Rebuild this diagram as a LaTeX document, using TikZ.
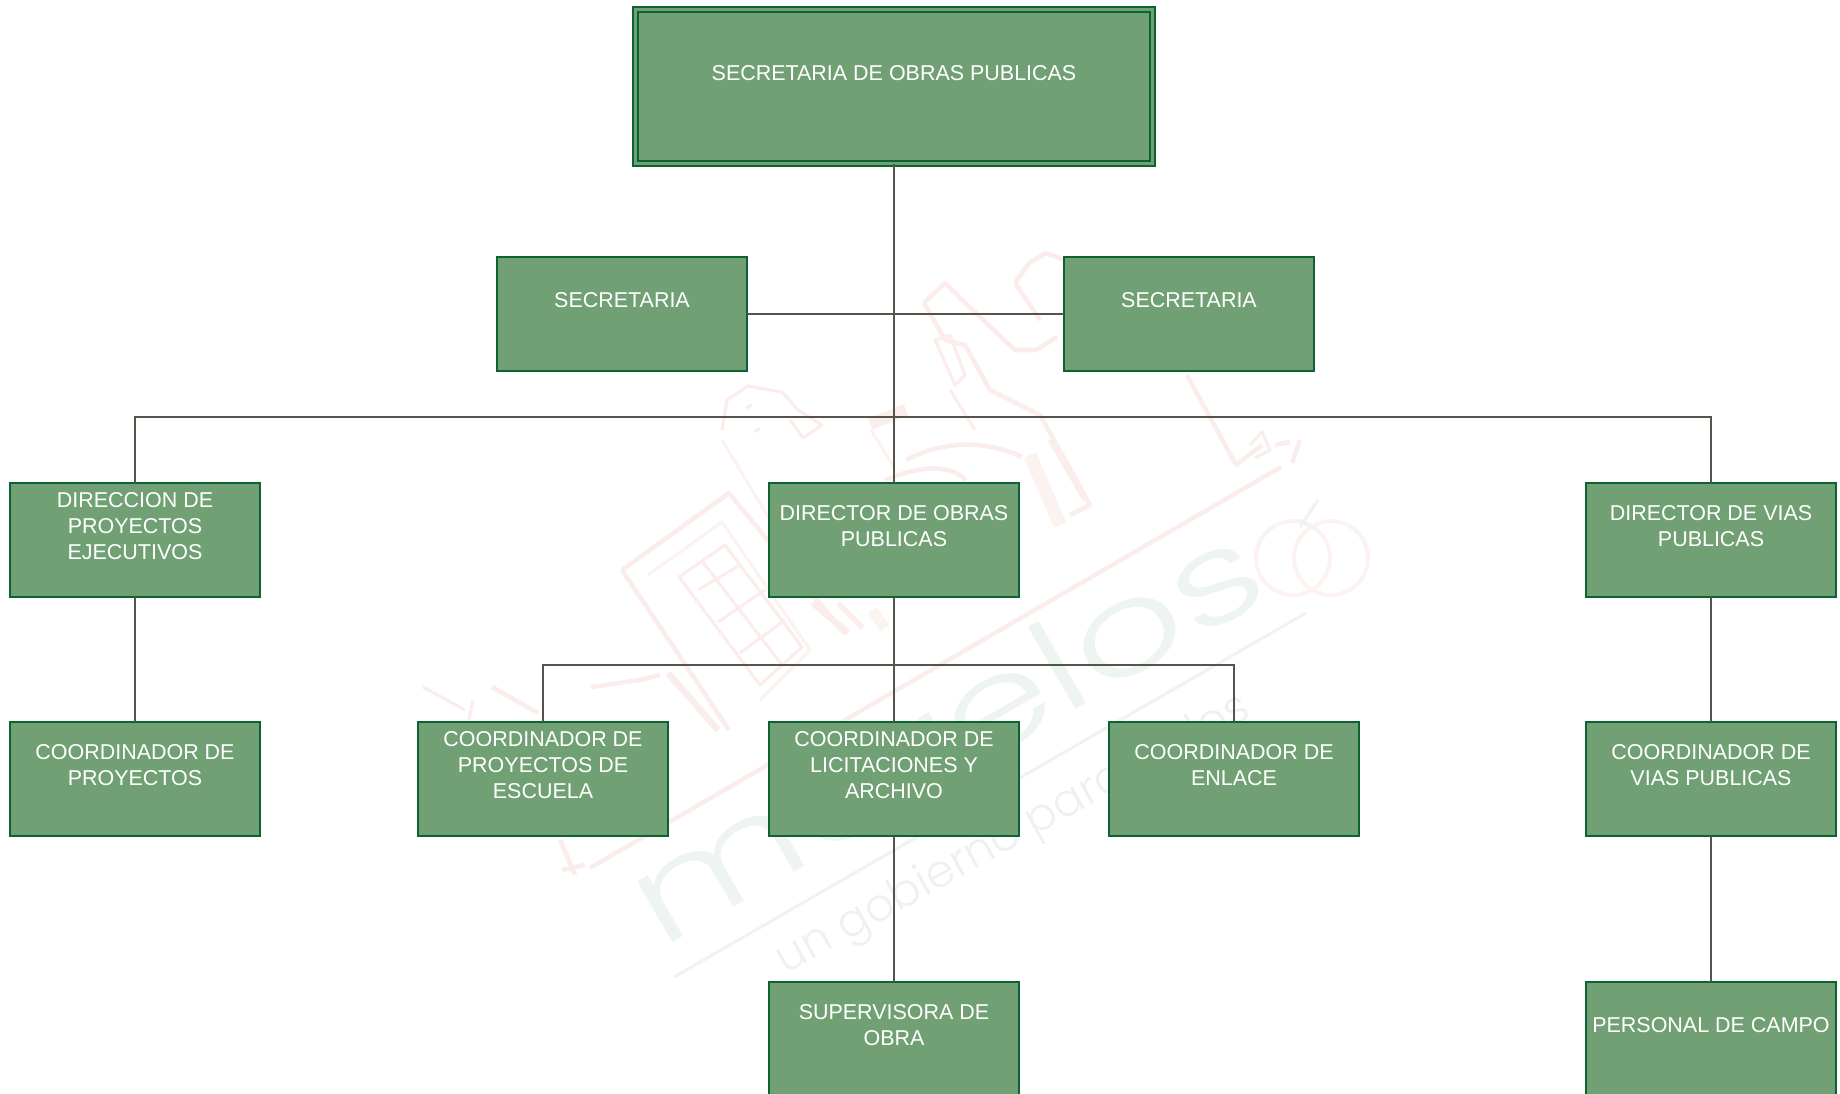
\documentclass[tikz,border=0pt]{standalone}
\usepackage{fontspec}
\setmainfont{Liberation Sans}
\newfontfamily\wmfont{Poppins Light}
\definecolor{boxfill}{HTML}{70A074}
\definecolor{boxline}{HTML}{0B6233}
\definecolor{conn}{HTML}{54544A}
\definecolor{wmpink}{HTML}{FAEDEB}
\definecolor{wmpinkb}{HTML}{FCF3F1}
\definecolor{wmgreen}{HTML}{EEF4EF}
\definecolor{wmgray}{HTML}{F0F0F0}
\newcommand{\tailline}{\\[-4.5pt]\strut}
\tikzset{
  orgbox/.style={draw=boxline,fill=boxfill,line width=1.5pt,text=white,inner sep=0pt,outer sep=0pt,
    minimum width=187pt,minimum height=85pt,align=center,
    font=\fontsize{16.1}{19.4}\selectfont},
  topbox/.style={orgbox,line width=1.2pt,double=boxfill,double distance=2.6pt,
    minimum width=387.5pt,minimum height=115.5pt},
  trunk/.style={draw=conn,line width=1.9pt},
  branch/.style={draw=conn,line width=1.35pt},
  pk/.style={draw=wmpink,line width=3.5pt,line join=round},
  pkthin/.style={draw=wmpink,line width=2.4pt,line join=round},
  pkpale/.style={draw=wmpinkb,line width=2.4pt,line join=round},
  gn/.style={draw=wmgreen,line width=2.5pt,line join=round},
}
\begin{document}
\begin{tikzpicture}[x=0.75pt,y=-0.75pt]
\useasboundingbox (0,0) rectangle (1840,1093);
\clip (0,0) rectangle (1840,1093);
% --- watermark ---
\draw[pk,line width=3.4pt] (1281,467) -- (590,868);
\draw[gn,line width=2.4pt] (1306,613) -- (674,977);
\node[rotate=30,xscale=1.375,anchor=base west,text=wmgreen,inner sep=0pt,font=\wmfont\fontsize{96}{96}\selectfont] (wmname) at (660,950) {morelos};
\node[rotate=29,anchor=base west,text=wmgray,inner sep=0pt,font=\wmfont\fontsize{34}{34}\selectfont] (wmtag) at (785,975) {un gobierno para todos};
% building
\draw[pk] (622,570) -- (729,493) -- (844,633);
\draw[pk] (622,570) -- (729,730);
\draw[pkpale] (648,575) -- (722,522) -- (810,650) -- (760,700);
\draw[pk,line width=5pt] (668,673) -- (718,730);
\draw[pkthin] (679,577) -- (725,545) -- (802,647) -- (760,685) -- cycle;
\draw[pkthin] (702,561) -- (782,665);
\draw[pkthin] (698,590) -- (740,565);
\draw[pkthin] (718,622) -- (765,590);
\draw[pkthin] (740,653) -- (785,620);
\draw[pk,line width=5pt] (813,603) -- (848,633);
\draw[pk,line width=4pt] (838,603) -- (863,628);
\draw[pkpale,line width=8pt] (872,610) -- (885,628);
% upper building
\draw[pkthin] (722,430) -- (727,400) -- (748,386) -- (782,392) -- (798,410);
\draw[pkpale] (722,440) -- (782,540);
\draw[pkthin] (790,420) -- (803,438) -- (822,425) -- (798,410);
\draw[pkthin] (746,408) -- (752,405);
\draw[pkthin] (755,432) -- (760,428);
\draw[pk,line width=9pt] (870,424) -- (906,410);
\draw[pkpale] (871,430) -- (894,467);
% tower and tool
\draw[pk] (924,303) -- (945,283) -- (962,300) -- (1015,350) -- (1036,350) -- (1057,337);
\draw[pk] (1015,283) -- (1029,263) -- (1046,253) -- (1064,260);
\draw[pk] (1015,283) -- (1040,320);
\draw[pk] (924,303) -- (945,340) -- (965,345) -- (990,390) -- (1040,415) -- (1090,505) -- (1070,515);
\draw[pkthin] (935,340) -- (950,335) -- (965,375) -- (955,385) -- cycle;
\draw[pkthin] (950,390) -- (975,430);
\draw[pk] (1050,440) -- (1085,500);
\draw[pkpale,line width=10pt] (1030,455) -- (1060,525);
\draw[pk] (906,460) .. controls (945,440) and (985,440) .. (1022,457);
\draw[pk] (885,480) .. controls (910,470) and (945,460) .. (966,480);
% right L mark
\draw[pk] (1187,375) -- (1236,465) -- (1262,445);
\draw[pkthin] (1250,445) -- (1262,432) -- (1270,450) -- (1255,458);
\draw[pk] (1275,445) -- (1290,442);
\draw[pk] (1300,440) -- (1292,463);
% rings and leaf
\draw[pkpale,line width=3pt] (1293,558) circle (37);
\draw[pkpale,line width=3pt] (1331,558) circle (37);
\draw[gn] (1300,527) -- (1318,500);
\draw[gn] (1298,520) -- (1318,530);
% lower left squiggles
\draw[pkthin] (423,687) -- (465,710);
\draw[pkthin] (473,700) -- (469,720);
\draw[pk] (492,687) -- (538,713);
\draw[pk] (591,687) -- (640,680) -- (660,675);
% lower end of the long line
\draw[pk] (560,840) -- (575,875);
\draw[pk] (562,870) -- (585,865);
% --- boxes ---
\node[topbox] (top) at (894,86.5) {SECRETARIA DE OBRAS PUBLICAS\tailline};
\node[orgbox] (secl) at (622,314) {SECRETARIA\tailline};
\node[orgbox] (secr) at (1189,314) {SECRETARIA\tailline};
\node[orgbox] (dirp) at (135,540) {DIRECCION DE\\PROYECTOS\\EJECUTIVOS\tailline};
\node[orgbox] (diro) at (894,540) {DIRECTOR DE OBRAS\\PUBLICAS\tailline};
\node[orgbox] (dirv) at (1711,540) {DIRECTOR DE VIAS\\PUBLICAS\tailline};
\node[orgbox] (copr) at (135,779) {COORDINADOR DE\\PROYECTOS\tailline};
\node[orgbox] (coes) at (543,779) {COORDINADOR DE\\PROYECTOS DE\\ESCUELA\tailline};
\node[orgbox] (coli) at (894,779) {COORDINADOR DE\\LICITACIONES Y\\ARCHIVO\tailline};
\node[orgbox] (coen) at (1234,779) {COORDINADOR DE\\ENLACE\tailline};
\node[orgbox] (covi) at (1711,779) {COORDINADOR DE\\VIAS PUBLICAS\tailline};
\node[orgbox] (supe) at (894,1039) {SUPERVISORA DE\\OBRA\tailline};
\node[orgbox] (camp) at (1711,1039) {PERSONAL DE CAMPO\tailline};
% --- connectors ---
\coordinate (busa) at (top.south |- 0,417);
\coordinate (busb) at (diro.south |- 0,665);
\draw[branch] (secl.east) -- (secr.west);
\draw[trunk] (top.south) -- (busa);
\draw[branch] (busa) -- (diro.north);
\draw[branch] (busa) -| (dirp.north);
\draw[branch] (busa) -| (dirv.north);
\draw[trunk] (diro.south) -- (busb);
\draw[branch] (busb) -- (coli.north);
\draw[branch] (busb) -| (coes.north);
\draw[branch] (busb) -| (coen.north);
\draw[branch] (dirp.south) -- (copr.north);
\draw[branch] (coli.south) -- (supe.north);
\draw[branch] (dirv.south) -- (covi.north);
\draw[branch] (covi.south) -- (camp.north);
\end{tikzpicture}
\end{document}
